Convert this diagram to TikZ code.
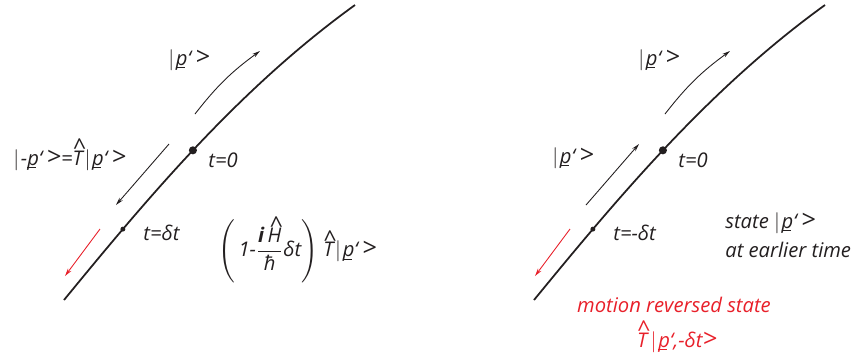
\documentclass[tikz,border=0pt]{standalone}
\usepackage{amsmath}
\usepackage{graphicx}
\usepackage{fontspec}
\setmainfont{Open Sans}
\usetikzlibrary{arrows.meta}
\definecolor{motion}{HTML}{E8202A}
\definecolor{ink}{HTML}{231F20}
\newcommand{\pv}{\makebox[0pt][l]{\rule[-1.8pt]{0.45em}{0.5pt}}p`}
\newcommand{\ket}[1]{$|$\kern1pt#1\scalebox{1.25}{>}}
\newcommand{\kp}{\ket{\pv\kern2.5pt}}
\newcommand{\op}[1]{\leavevmode\hbox{\ooalign{#1\cr\hidewidth\kern0.18em\raisebox{0.45em}{\upshape\scalebox{1.15}{\^{}}}\hidewidth\cr}}}

\begin{document}
\begin{tikzpicture}[x=0.02cm, y=-0.02cm, ink,
    font=\fontsize{11.5}{14}\selectfont\itshape,
    world/.style={line width=1pt},
    move/.style={line width=0.5pt, -{Stealth[length=4.5pt,width=2.4pt]}},
    event/.style={circle, fill=ink, inner sep=0pt},
    txt/.style={anchor=base west, inner sep=0pt}]
    \useasboundingbox (0,0) rectangle (862,360);

    % left: forward motion, then the reversed state evolving
    \draw[world] (64,300) .. controls (150,195) and (240,88) .. (355,5)
        coordinate[pos=0.225] (Ldt) coordinate[pos=0.48] (L0);
    \node[event, minimum size=4.6pt] (dotL0) at (L0) {};
    \node[event, minimum size=2.8pt] (dotLdt) at (Ldt) {};

    \coordinate (upL1) at (195,114);  \coordinate (upL2) at (260,51);
    \coordinate (dnL1) at (169,144);  \coordinate (dnL2) at (116,205);
    \coordinate (rdL1) at (100,229);  \coordinate (rdL2) at (65,276);
    \draw[move] (upL1) to[bend left=8] (upL2);
    \draw[move] (dnL1) -- (dnL2);
    \draw[move, motion] (rdL1) -- (rdL2);

    \node[txt] (ketL) at (168,65) {\kp};
    \node[txt] (revL) at (13,165) {\ket{-\pv\kern2.5pt}=\op{T}\kern1pt\kp};
    \node[txt] (t0L) at (208,167) {t=0};
    \node[txt] (tdL) at (143,240) {t=δt};
    \node[anchor=west, inner sep=0pt] (evol) at (218,252)
        {$\left(\vphantom{\rule[-16pt]{0pt}{33pt}}\,\text{1-}\dfrac{\text{\textbf{i}}\,\text{\op{H}}}{\text{ħ}}\text{δt}\right)$\kern3pt\op{T}\kern1pt\kp};

    % right: same path, state at an earlier time
    \draw[world] (534,300) .. controls (620,195) and (710,88) .. (825,5)
        coordinate[pos=0.225] (Rdt) coordinate[pos=0.48] (R0);
    \node[event, minimum size=4.6pt] (dotR0) at (R0) {};
    \node[event, minimum size=2.8pt] (dotRdt) at (Rdt) {};

    \coordinate (upR1) at (665,114);  \coordinate (upR2) at (730,51);
    \coordinate (mdR1) at (586,205);  \coordinate (mdR2) at (639,144);
    \coordinate (rdR1) at (570,229);  \coordinate (rdR2) at (535,276);
    \draw[move] (upR1) to[bend left=8] (upR2);
    \draw[move] (mdR1) -- (mdR2);
    \draw[move, motion] (rdR1) -- (rdR2);

    \node[txt] (ketR) at (638,65) {\kp};
    \node[txt] (ketM) at (552,163) {\kp};
    \node[txt] (t0R) at (678,167) {t=0};
    \node[txt] (tdR) at (613,240) {t=-δt};
    \node[txt] (state) at (725,228) {state \kp};
    \node[txt] (earlier) at (725,257) {at earlier time};
    \node[anchor=base, inner sep=0pt, motion] (revstate) at (674,312) {motion reversed state};
    \node[anchor=base, inner sep=0pt, motion] (revket) at (677,347) {\op{T}\kern2pt\ket{\pv,-δt}};
\end{tikzpicture}
\end{document}
